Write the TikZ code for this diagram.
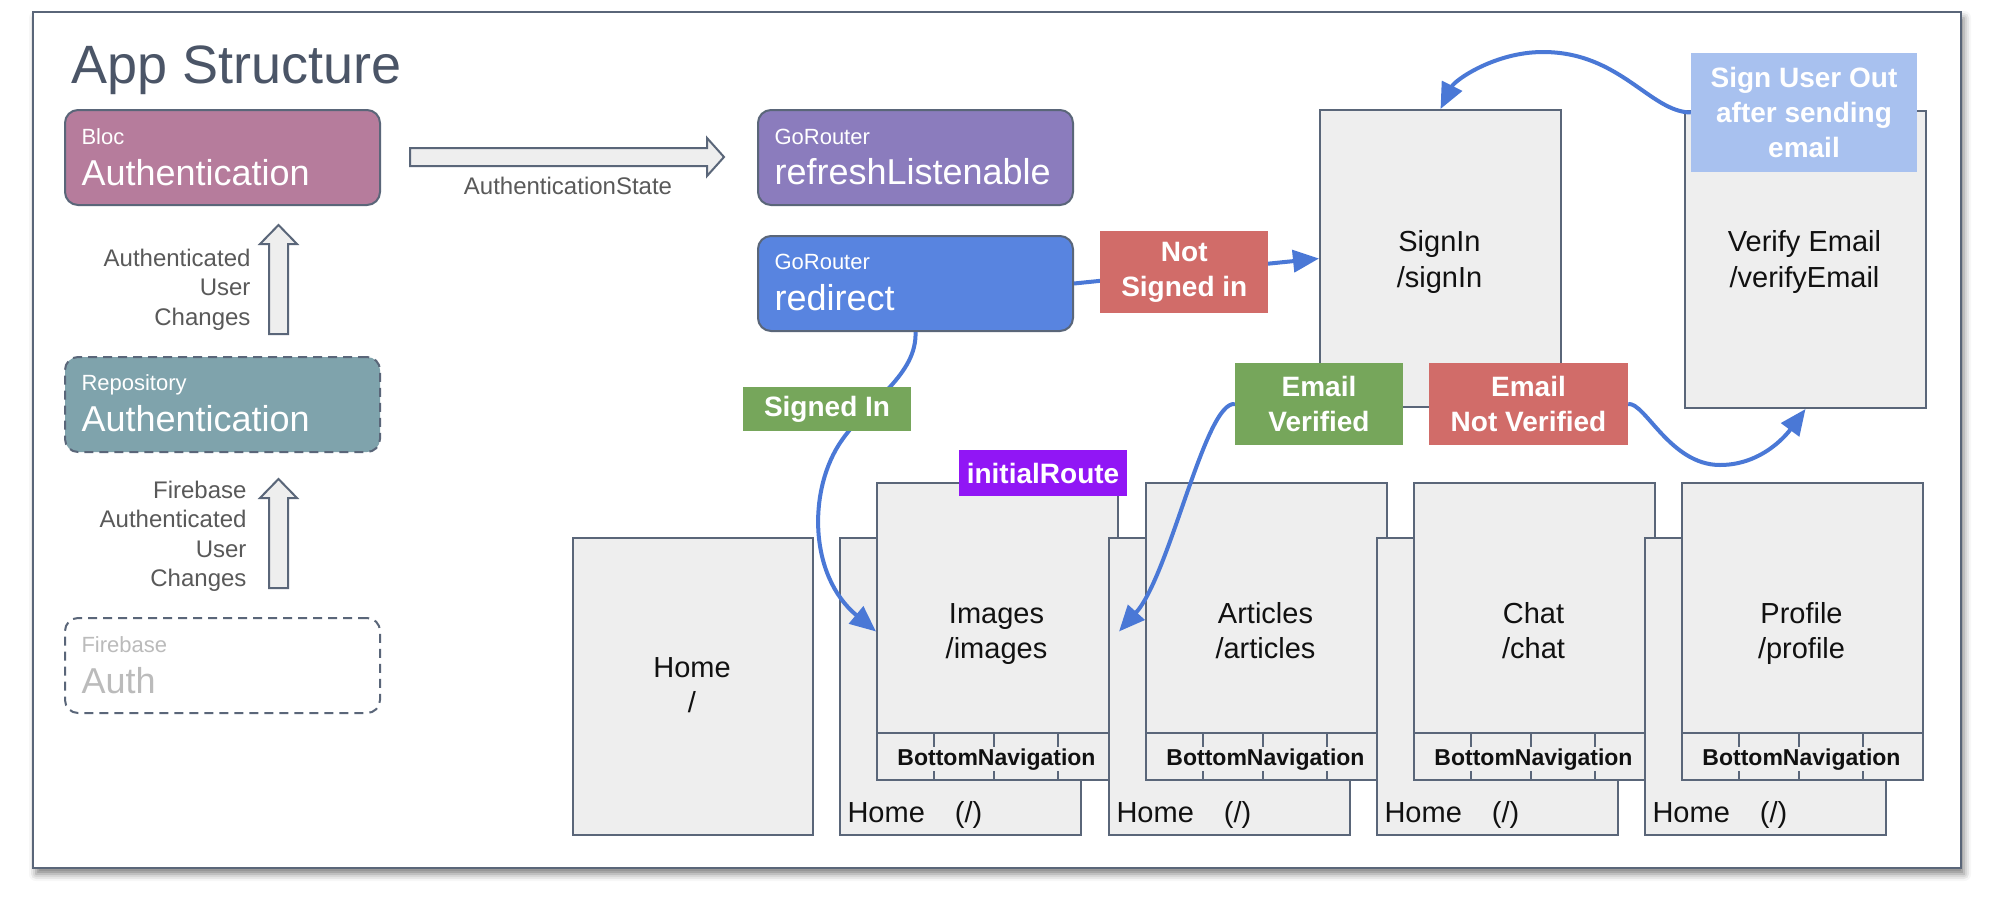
\documentclass[tikz,border=0pt]{standalone}
\usepackage{fontspec}
\setmainfont{Liberation Sans}
\usetikzlibrary{arrows.meta,positioning,shadows.blur}
\definecolor{ardoise}{HTML}{5A6679}
\definecolor{fond}{HTML}{EEEEEE}
\definecolor{mauve}{HTML}{B67C9C}
\definecolor{sarcelle}{HTML}{7FA3AC}
\definecolor{lavande}{HTML}{8B7CBD}
\definecolor{bleuredir}{HTML}{5884E0}
\definecolor{bleulien}{HTML}{4A78D6}
\definecolor{vert}{HTML}{76A65B}
\definecolor{rouge}{HTML}{D16C69}
\definecolor{bleuclair}{HTML}{A8C1EF}
\definecolor{violet}{HTML}{9116F5}
\definecolor{gristexte}{HTML}{595959}
\definecolor{grisclair}{HTML}{BBBBBB}
\definecolor{ardoisetitre}{HTML}{4B5567}
\definecolor{noir}{HTML}{111111}
\newcommand{\taille}[2]{\fontsize{#1}{#2}\selectfont}
\tikzset{>=Stealth,every node/.style={text=noir},
  cadre/.style={draw=ardoise,line width=2pt},
  composant/.style={cadre,rounded corners=13pt,minimum width=315pt,minimum height=95pt,inner sep=0pt,anchor=north west},
  petit/.style={anchor=base west,text=white,font=\taille{22}{26}},
  grand/.style={anchor=base west,text=white,font=\taille{36}{42}},
  ecran/.style={cadre,fill=fond,minimum width=241pt,minimum height=297pt,inner sep=0pt,anchor=north west},
  legende/.style={anchor=base,inner sep=0pt,font=\taille{29}{35}},
  barre/.style={fill=fond,inner sep=1pt,anchor=base,font=\bfseries\taille{23}{26}},
  etiquette/.style={fill=#1,text=white,align=center,inner sep=0pt,font=\bfseries\taille{28}{35}},
  lien/.style={draw=bleulien,line width=4pt,-{Triangle[length=26pt,width=22pt]}},
  grossefleche/.style={cadre,fill=fond,line join=miter},
  cote/.style={anchor=north east,align=right,text=gristexte,font=\taille{24}{29.3}}}
% un ecran empile : Home (/) derriere, la page devant avec sa barre du bas
\newcommand{\onglet}[4]{%
  \node[ecran] (#1fond) at (#2-37,537) {};
  \node[anchor=base west,font=\taille{29}{35}] (#1home) at (#2-32,822) {Home\hspace{30pt}(/)};
  \node[ecran] (#1) at (#2,482) {};
  \node[legende] (#1nom) at (#2+120.5,623) {#3};\node[legende] (#1route) at (#2+120.5,658.5) {#4};
  \draw[cadre] (#2,733) -- (#2+241,733);
  \draw[cadre] (#2+58,733) -- (#2+58,779) (#2+118,733) -- (#2+118,779) (#2+182,733) -- (#2+182,779);
  \node[barre] (#1barre) at (#2+120.5,765) {BottomNavigation};}

\begin{document}
\begin{tikzpicture}[x=1pt,y=-1pt]
\useasboundingbox (0,0) rectangle (1992,898);
\draw[cadre,line width=2.5pt,fill=white,blur shadow={shadow xshift=3pt,shadow yshift=-6pt,shadow blur radius=7pt,shadow opacity=50}] (33,12) rectangle (1961,868);
\node[anchor=base west,text=ardoisetitre,font=\taille{54}{60}] (titre) at (68,83) {App Structure};

% colonne de gauche
\node[composant,fill=mauve] (bloc) at (64,109) {};
\node[petit] (bloclab) at (78,144) {Bloc};\node[grand] (blocnom) at (78,185) {Authentication};
\node[composant,fill=sarcelle,dashed,dash pattern=on 9pt off 6pt] (depot) at (64,356) {};
\node[petit] (depotlab) at (78,390) {Repository};\node[grand] (depotnom) at (78,431) {Authentication};
\node[composant,fill=white,dashed,dash pattern=on 9pt off 6pt] (firebase) at (64,617) {};
\node[petit,text=grisclair] (firebaselab) at (78,652) {Firebase};\node[grand,text=grisclair] (firebasenom) at (78,693) {Auth};
\draw[grossefleche] (269,334) -- (269,244) -- (260,244) -- (278.5,225) -- (297,244) -- (288,244) -- (288,334) -- cycle;
\draw[grossefleche] (269,588) -- (269,498) -- (260,498) -- (278.5,479) -- (297,498) -- (288,498) -- (288,588) -- cycle;
\node[cote] (blocflux) at (254,245.5) {Authenticated\\User\\Changes};
\node[cote] (depotflux) at (250,477.5) {Firebase\\Authenticated\\User\\Changes};
\draw[grossefleche] (410,148) -- (707,148) -- (707,138) -- (724,157) -- (707,176) -- (707,166) -- (410,166) -- cycle;
\node[anchor=base,text=gristexte,font=\taille{24}{29}] (etat) at (568,194) {AuthenticationState};

% GoRouter
\node[composant,fill=lavande] (refresh) at (757,109) {};
\node[petit] (refreshlab) at (771,144) {GoRouter};\node[grand] (refreshnom) at (771,184) {refreshListenable};
\node[composant,fill=bleuredir] (redirect) at (757,235) {};
\node[petit] (redirectlab) at (771,269) {GoRouter};\node[grand] (redirectnom) at (771,310) {redirect};

% pages
\node[ecran,minimum width=240pt] (home) at (572,537) {};
\node[legende] (homenom) at (692,677) {Home};\node[legende] (homeroute) at (692,712.5) {/};
\onglet{images}{876}{Images}{/images}
\onglet{articles}{1145}{Articles}{/articles}
\onglet{chat}{1413}{Chat}{/chat}
\onglet{profile}{1681}{Profile}{/profile}
\node[ecran] (signin) at (1319,109) {};
\node[legende] (signinnom) at (1439.5,251) {SignIn};\node[legende] (signinroute) at (1439.5,287) {/signIn};
\node[ecran] (verify) at (1684,110) {};
\node[legende] (verifynom) at (1804.5,251) {Verify Email};\node[legende] (verifyroute) at (1804.5,287) {/verifyEmail};

% etiquettes et liens
\node[etiquette=violet,minimum width=168pt,minimum height=46pt] (initial) at (1043,473) {initialRoute};
\node[etiquette=bleuclair,minimum width=226pt,minimum height=119pt] (signout) at (1804,112.5) {Sign User Out\\after sending\\email};
\node[etiquette=vert,minimum width=168pt,minimum height=82pt] (everif) at (1319,404) {Email\\Verified};
\node[etiquette=rouge,minimum width=199pt,minimum height=82pt] (enverif) at (1528.5,404) {Email\\Not Verified};
\draw[lien] (redirect.east) -- node[etiquette=rouge,pos=.45,minimum width=168pt,minimum height=82pt] (nonconnecte) {Not\\Signed in} (signin.west);
\draw[lien] (redirect.south) .. controls (917,375) and (870,400) .. (842,440) .. controls (808,488) and (808,575) .. (images.west);
\node[etiquette=vert,minimum width=168pt,minimum height=44pt] (connecte) at (827,409) {Signed In};
\draw[lien] (everif.west) .. controls (1205,401) and (1170,575) .. (images.east);
\draw[lien] (enverif.east) .. controls (1645,402) and (1670,465) .. (1720,465) .. controls (1765,465) and (1790,430) .. (verify.south);
\draw[lien] (signout.west) .. controls (1650,112) and (1620,52) .. (1543,52) .. controls (1495,52) and (1455,80) .. (signin.north);
\end{tikzpicture}
\end{document}
